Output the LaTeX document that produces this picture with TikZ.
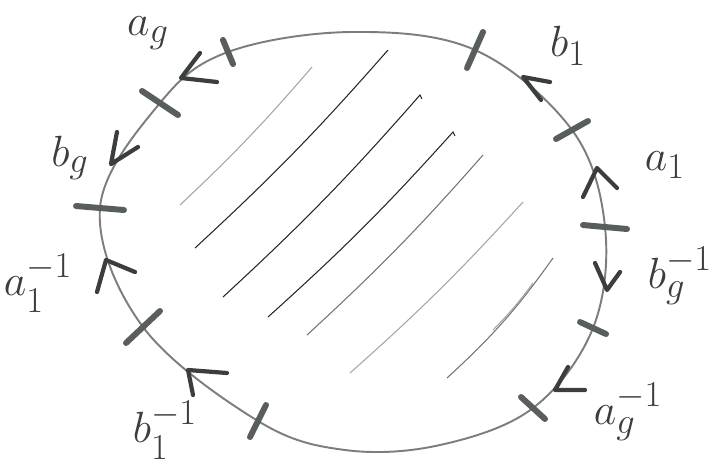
\documentclass[tikz,border=0pt]{standalone}
\usepackage{amsmath,amssymb}
\usetikzlibrary{calc}
\definecolor{pencil}{RGB}{125,125,125}
\definecolor{penmark}{RGB}{88,94,92}
\definecolor{inkdark}{RGB}{58,62,60}
\definecolor{hatchlight}{RGB}{165,165,165}

\tikzset{
  rim/.style={pencil, line width=1.1pt},
  tickmark/.style={penmark, line width=3.4pt, line cap=round},
  chevron/.style={inkdark, line width=2.4pt, line cap=round, line join=round},
  hatch/.style={black!85, line width=0.6pt},
  hatchfaint/.style={hatchlight, line width=0.6pt},
  lbl/.style={inkdark, font=\fontsize{31}{33}\selectfont}
}

\begin{document}
\begin{tikzpicture}[x=0.02cm, y=-0.02cm]
    \useasboundingbox (0,0) rectangle (715,470);
    % cuts on the boundary
    \coordinate (t1) at (475,50);
    \coordinate (t2) at (572,130);
    \coordinate (t3) at (605,227);
    \coordinate (t4) at (593,328);
    \coordinate (t5) at (533,408);
    \coordinate (t6) at (258,421);
    \coordinate (t7) at (143,327);
    \coordinate (t8) at (100,208);
    \coordinate (t9) at (160,103);
    \coordinate (t10) at (228,52);
    % hatching
    \draw[hatchfaint] (180,205) to[bend right=3] (312,67);
    \draw[hatch] (195,248) to[bend right=3] (388,50);
    \draw[hatch] (223,297) to[bend right=3] (420,95) -- (422,99);
    \draw[hatch] (268,317) to[bend right=3] (453,132) -- (455,136);
    \draw[hatch, black!55] (307,335) to[bend right=3] (483,155);
    \draw[hatchfaint] (350,373) to[bend right=3] (523,202);
    \draw[hatch, black!55] (447,378) to[bend right=6] (553,258);
    \draw[hatchfaint] (493,330) to[bend right=4] (533,283);
    % boundary
    \draw[rim] plot[smooth cycle, tension=0.6] coordinates {
      (t10) (352,32) (t1) (t2) (t3) (t4) (t5) (440,445) (345,450)
      (t6) (t7) (t8) (t9)};
    % cut marks
    \draw[tickmark] ($(t1)+(8,-18)$) -- ($(t1)-(8,-18)$);
    \draw[tickmark] ($(t2)+(16,-9)$) -- ($(t2)-(16,-9)$);
    \draw[tickmark] ($(t3)+(22,2)$) -- ($(t3)-(22,2)$);
    \draw[tickmark] ($(t4)+(13,6)$) -- ($(t4)-(13,6)$);
    \draw[tickmark] ($(t5)+(12,11)$) -- ($(t5)-(12,11)$);
    \draw[tickmark] ($(t6)+(8,-16)$) -- ($(t6)-(8,-16)$);
    \draw[tickmark] ($(t7)+(17,-16)$) -- ($(t7)-(17,-16)$);
    \draw[tickmark] ($(t8)+(24,2)$) -- ($(t8)-(24,2)$);
    \draw[tickmark] ($(t9)+(18,12)$) -- ($(t9)-(18,12)$);
    \draw[tickmark] ($(t10)+(5,12)$) -- ($(t10)-(5,12)$);
    % arrow heads
    \draw[chevron] (200,53) -- (181,78) -- (217,82);
    \draw[chevron] (117,132) -- (111,164) -- (138,147);
    \draw[chevron] (97,292) -- (106,260) -- (135,272);
    \draw[chevron] (193,395) -- (188,370) -- (227,373);
    \draw[chevron] (568,367) -- (555,390) -- (585,390);
    \draw[chevron] (595,263) -- (607,290) -- (620,272);
    \draw[chevron] (583,197) -- (597,168) -- (617,188);
    \draw[chevron] (550,82) -- (523,77) -- (541,100);
    % labels
    \node[lbl] (lag) at (148,33) {$a_g$};
    \node[lbl] (lbg) at (70,158) {$b_g$};
    \node[lbl] (la1i) at (38,283) {$a_1^{-1}$};
    \node[lbl] (lb1i) at (165,430) {$b_1^{-1}$};
    \node[lbl] (lagi) at (628,412) {$a_g^{-1}$};
    \node[lbl] (lbgi) at (680,276) {$b_g^{-1}$};
    \node[lbl] (la1) at (665,165) {$a_1$};
    \node[lbl] (lb1) at (568,46) {$b_1$};
  \end{tikzpicture}
\end{document}
